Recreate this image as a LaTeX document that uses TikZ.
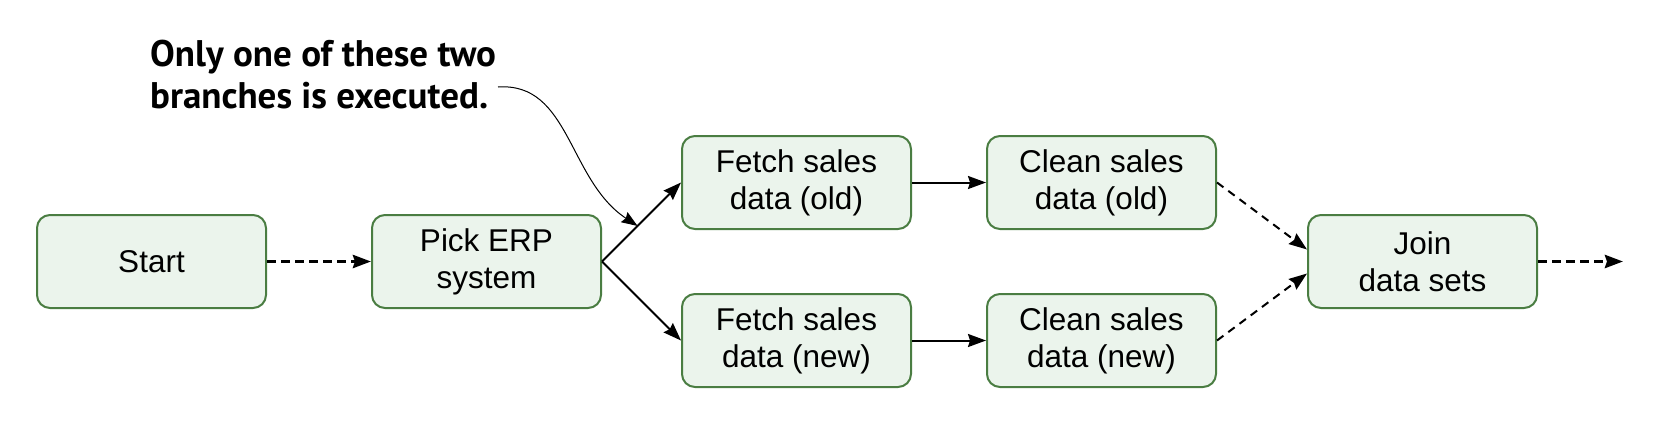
\documentclass[tikz,border=0pt]{standalone}
\usepackage{fontspec}
\setmainfont{Liberation Sans}
\newfontfamily\notefont{PT Sans}
\usetikzlibrary{arrows.meta, calc}
\definecolor{taskgreen}{RGB}{74,125,66}
\definecolor{taskfill}{RGB}{235,244,236}
\tikzstyle{task} = [rectangle, rounded corners=13pt, minimum width=229pt, minimum height=93pt, align=center, text centered, line width=2pt, draw=taskgreen, fill=taskfill, font=\fontsize{31.5}{37}\selectfont]
\tikzstyle{arrow} = [line width=2pt, -{Stealth[length=18pt, width=13pt, inset=2pt]}]
\tikzstyle{dasharrow} = [arrow, dash pattern=on 8pt off 6pt]
\tikzstyle{bigdasharrow} = [arrow, line width=3.5pt, dash pattern=on 9pt off 5pt]
\tikzstyle{notearrow} = [line width=1pt, -{Stealth[length=16pt, width=12pt, inset=2pt]}]

\begin{document}
\begin{tikzpicture}[x=1pt, y=-1pt]
        \useasboundingbox (0,0) rectangle (1658,440);
        \node (start) [task] at (151.5,261.5) {Start};
        \node (pick) [task] at (486.5,261.5) {Pick ERP\\system};
        \node (fetchold) [task] at (796.5,182.5) {Fetch sales\\data (old)};
        \node (fetchnew) [task] at (796.5,340.5) {Fetch sales\\data (new)};
        \node (cleanold) [task] at (1101.5,182.5) {Clean sales\\data (old)};
        \node (cleannew) [task] at (1101.5,340.5) {Clean sales\\data (new)};
        \node (join) [task] at (1422.5,261.5) {Join\\data sets};
        \coordinate (out) at (1623,261.5);
        % note on the two branches
        \node (note) [anchor=north west, align=left, inner sep=0pt, font=\notefont\bfseries\fontsize{37}{42}\selectfont] at (150,40) {Only one of these two\\branches is executed.};
        \coordinate (notestart) at (498,87);
        \draw [bigdasharrow] (start) -- (pick);
        \draw [arrow] (pick.east) -- (fetchold.west);
        \draw [arrow] (pick.east) -- (fetchnew.west);
        \draw [arrow] (fetchold) -- (cleanold);
        \draw [arrow] (fetchnew) -- (cleannew);
        \draw [dasharrow] (cleanold.east) -- ($(join.west)+(0,-12)$);
        \draw [dasharrow] (cleannew.east) -- ($(join.west)+(0,12)$);
        \draw [bigdasharrow] (join) -- (out);
        \draw [notearrow] (notestart) .. controls (570,82) and (568,180) .. ($(pick.east)!0.45!(fetchold.west)$);
      \end{tikzpicture}
\end{document}
